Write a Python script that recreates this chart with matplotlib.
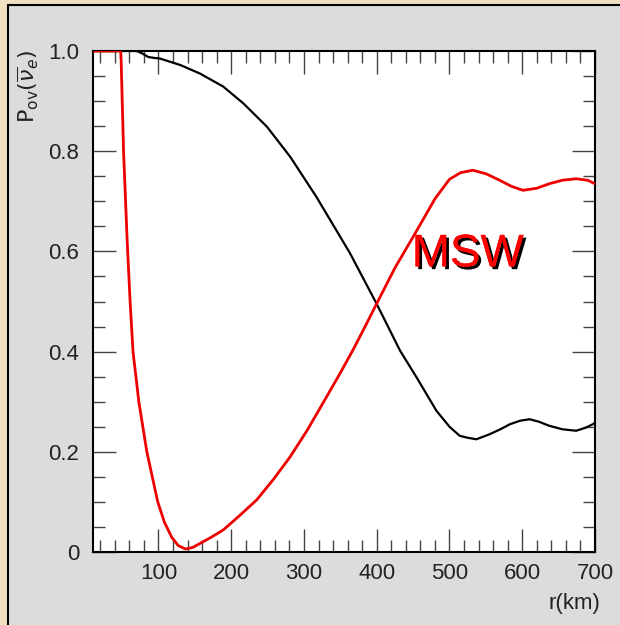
import matplotlib
matplotlib.use("Agg")
import matplotlib.pyplot as plt
from matplotlib.patches import Rectangle
from matplotlib.ticker import MultipleLocator, FixedLocator
import matplotlib.patheffects as pe

# ---- data ----
red_r = [10, 48, 48.7, 52, 57, 61, 65, 73, 84, 99, 108, 118, 127, 137, 147, 157,
         172, 189, 211, 235, 258, 281, 304, 326, 349, 368, 384, 400, 425, 454, 480,
         500, 515, 532, 550, 569, 585, 601, 620, 637, 655, 674, 690, 700]
red_p = [1.0, 1.0, 0.98, 0.80, 0.62, 0.50, 0.40, 0.30, 0.20, 0.10, 0.06, 0.03,
         0.013, 0.006, 0.009, 0.017, 0.029, 0.044, 0.072, 0.104, 0.145, 0.19, 0.242,
         0.297, 0.355, 0.405, 0.45, 0.496, 0.567, 0.639, 0.705, 0.744, 0.757, 0.762,
         0.755, 0.742, 0.73, 0.722, 0.726, 0.735, 0.742, 0.745, 0.742, 0.735]

black_r = [10, 70, 78, 86, 95, 102, 130, 157, 189, 217, 249, 281, 317, 363, 400, 432,
           455, 482, 500, 514, 525, 537, 555, 570, 583, 597, 610, 623, 637, 655, 674,
           687, 697, 700]
black_p = [1.0, 1.0, 0.995, 0.988, 0.986, 0.985, 0.972, 0.955, 0.929, 0.895, 0.849,
           0.789, 0.709, 0.597, 0.495, 0.402, 0.348, 0.282, 0.25, 0.232, 0.228, 0.225,
           0.235, 0.245, 0.255, 0.262, 0.265, 0.26, 0.252, 0.245, 0.242, 0.248, 0.255,
           0.258]

x_ticks = [100, 200, 300, 400, 500, 600, 700]
x_ticklabels = ["100", "200", "300", "400", "500", "600", "700"]
y_ticks = [0, 0.2, 0.4, 0.6, 0.8, 1.0]
y_ticklabels = ["0", "0.2", "0.4", "0.6", "0.8", "1.0"]

FONT = ["Liberation Sans", "DejaVu Sans"]

fig = plt.figure(figsize=(6.2, 6.25), dpi=100)
fig.patch.set_facecolor("#efe0c2")

# gray panel with black border
W, H = 620.0, 625.0
panel = Rectangle((8 / W, -0.01), 1 - 8 / W + 0.01, 1 - 5 / H + 0.01,
                  transform=fig.transFigure, facecolor="#dcdcdc", edgecolor="black",
                  linewidth=1.5, zorder=-10)
fig.add_artist(panel)

ax = fig.add_axes([93 / W, 1 - 552 / H, (595 - 93) / W, (552 - 51) / H])
ax.set_zorder(1)
ax.set_facecolor("white")

ax.plot(black_r, black_p, color="black", lw=1.6, zorder=3)
ax.plot(red_r, red_p, color="#ee0000", lw=2.0, zorder=4)

ax.set_xlim(10, 700)
ax.set_ylim(0, 1.0)

ax.xaxis.set_major_locator(FixedLocator(x_ticks))
ax.set_xticklabels(x_ticklabels)
ax.xaxis.set_minor_locator(MultipleLocator(20))
ax.yaxis.set_major_locator(FixedLocator(y_ticks))
ax.set_yticklabels(y_ticklabels)
ax.yaxis.set_minor_locator(MultipleLocator(0.05))

ax.tick_params(which="both", direction="in", top=True, right=True, color="#444444",
               width=1.0)
ax.tick_params(which="major", length=16.5, labelsize=16)
ax.tick_params(which="minor", length=8.5)
ax.tick_params(axis="x", which="major", pad=8)
ax.tick_params(axis="y", which="major", pad=10)
for lab in ax.get_xticklabels() + ax.get_yticklabels():
    lab.set_family(FONT)
    lab.set_color("#222222")

for s in ax.spines.values():
    s.set_linewidth(1.5)
    s.set_color("black")

# axis labels
fig.text(28 / W, 1 - 86 / H, r"$\mathrm{P}_{\mathrm{ov}}(\overline{\nu}_{e})$",
         rotation=90, ha="center", va="center", fontsize=16, color="#222222")
fig.text(600 / W, 1 - 604 / H, "r(km)", ha="right", va="center", fontsize=16,
         color="#222222", family=FONT)

# MSW annotation
ax.text(525, 0.594, "MSW", color="red", fontsize=33, ha="center", va="center",
        family=["Liberation Sans Narrow", "Liberation Sans", "DejaVu Sans"],
        path_effects=[pe.withSimplePatchShadow(offset=(2, -2), shadow_rgbFace="black",
                                               alpha=1.0), pe.Normal()], zorder=5)

fig.savefig("out.png", dpi=100, facecolor=fig.get_facecolor())
